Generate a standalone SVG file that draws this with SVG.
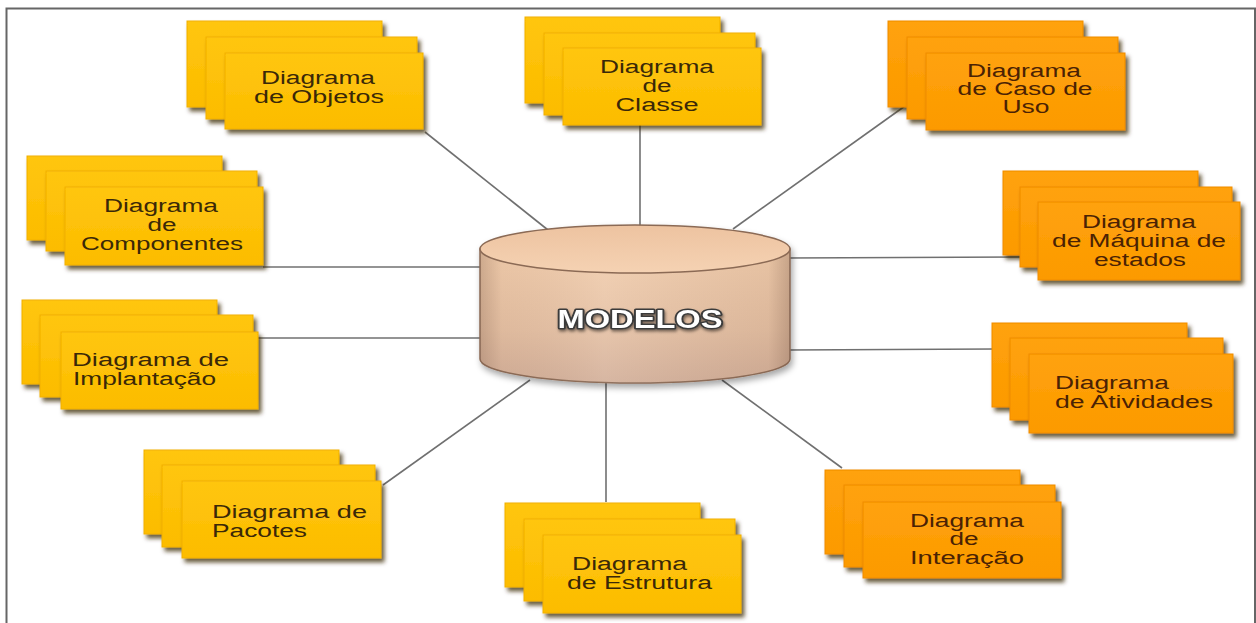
<svg xmlns="http://www.w3.org/2000/svg" width="1256" height="623" viewBox="0 0 1256 623">
<defs>
<filter id="sh" x="-10%" y="-10%" width="125%" height="130%">
<feDropShadow dx="3" dy="4" stdDeviation="2.2" flood-color="#3a2800" flood-opacity="0.75"/>
</filter>
<filter id="csh" x="-10%" y="-10%" width="120%" height="130%">
<feDropShadow dx="2" dy="4" stdDeviation="3" flood-color="#000" flood-opacity="0.35"/>
</filter>
<filter id="tsh" x="-10%" y="-30%" width="120%" height="160%">
<feDropShadow dx="1" dy="2" stdDeviation="1.5" flood-color="#000" flood-opacity="0.5"/>
</filter>
<linearGradient id="gy" x1="0" y1="0" x2="0" y2="1">
<stop offset="0" stop-color="#FFC60E"/>
<stop offset="1" stop-color="#FCBC00"/>
</linearGradient>
<linearGradient id="go" x1="0" y1="0" x2="0" y2="1">
<stop offset="0" stop-color="#FFA20C"/>
<stop offset="1" stop-color="#FC9A00"/>
</linearGradient>
<linearGradient id="body" x1="0" y1="0" x2="0" y2="1">
<stop offset="0" stop-color="#F2CDAC"/>
<stop offset="0.6" stop-color="#E4BFA2"/>
<stop offset="1" stop-color="#D2AE98"/>
</linearGradient>
<linearGradient id="bodyH" x1="0" y1="0" x2="1" y2="0">
<stop offset="0" stop-color="#7a5a48" stop-opacity="0.3"/>
<stop offset="0.07" stop-color="#7a5a48" stop-opacity="0.05"/>
<stop offset="0.4" stop-color="#ffffff" stop-opacity="0.1"/>
<stop offset="0.93" stop-color="#7a5a48" stop-opacity="0.08"/>
<stop offset="1" stop-color="#7a5a48" stop-opacity="0.35"/>
</linearGradient>
<linearGradient id="top" x1="0" y1="0" x2="0" y2="1">
<stop offset="0" stop-color="#EDC3A0"/>
<stop offset="1" stop-color="#F5D2B3"/>
</linearGradient>
<style>
.y{fill:url(#gy);stroke:#F2B000;stroke-width:1;filter:url(#sh)}
.o{fill:url(#go);stroke:#F08C00;stroke-width:1;filter:url(#sh)}
.t{font-family:"Liberation Sans",Arial,sans-serif;font-size:18px;fill:#3a2808}
.o2{fill:#4a2204}
.tc{text-anchor:middle}
.conn line{stroke:#707070;stroke-width:1.6}
</style>
</defs>
<rect x="0" y="0" width="1256" height="623" fill="#ffffff"/>
<rect x="6.5" y="8.5" width="1248.5" height="620" fill="none" stroke="#666666" stroke-width="2"/>

<g id="connectors" class="conn">
<line x1="425" y1="132" x2="548" y2="230"/>
<line x1="640" y1="125" x2="640" y2="228"/>
<line x1="905" y1="106" x2="733" y2="229"/>
<line x1="263" y1="267" x2="482" y2="267"/>
<line x1="788" y1="258" x2="1020" y2="257"/>
<line x1="258" y1="338" x2="482" y2="338"/>
<line x1="788" y1="350" x2="995" y2="349"/>
<line x1="383" y1="485" x2="530" y2="380"/>
<line x1="606" y1="383" x2="606" y2="502"/>
<line x1="722" y1="380" x2="842" y2="468"/>
</g>

<g id="modelos">
<g filter="url(#csh)">
<path d="M480,249 L480,359 A155,24 0 0 0 790,359 L790,249 Z" fill="url(#body)" stroke="#8B6A55" stroke-width="1.5"/>
<path d="M480,249 L480,359 A155,24 0 0 0 790,359 L790,249 Z" fill="url(#bodyH)"/>
<ellipse cx="635" cy="249" rx="155" ry="24" fill="url(#top)" stroke="#8B6A55" stroke-width="1.5"/>
</g>
<text x="640" y="328" text-anchor="middle" font-family="Liberation Sans,Arial,sans-serif" font-weight="bold" font-size="25" textLength="165" lengthAdjust="spacingAndGlyphs" fill="#ffffff" stroke="#3a3a3a" stroke-width="3" paint-order="stroke" stroke-linejoin="round" filter="url(#tsh)">MODELOS</text>
</g>

<g id="objetos">
<rect class="y" x="187" y="21" width="195" height="86"/>
<rect class="y" x="206" y="37" width="211" height="82"/>
<rect class="y" x="225" y="53" width="198" height="76"/>
<text class="t tc" x="318" y="84" textLength="114" lengthAdjust="spacingAndGlyphs">Diagrama</text>
<text class="t tc" x="319" y="103" textLength="130" lengthAdjust="spacingAndGlyphs">de Objetos</text>
</g>

<g id="classe">
<rect class="y" x="525" y="17" width="195" height="86"/>
<rect class="y" x="544" y="33" width="211" height="82"/>
<rect class="y" x="563" y="48" width="198" height="77"/>
<text class="t tc" x="657" y="73" textLength="114" lengthAdjust="spacingAndGlyphs">Diagrama</text>
<text class="t tc" x="657" y="92" textLength="29" lengthAdjust="spacingAndGlyphs">de</text>
<text class="t tc" x="657" y="111" textLength="83" lengthAdjust="spacingAndGlyphs">Classe</text>
</g>

<g id="casodeuso">
<rect class="o" x="888" y="21" width="195" height="86"/>
<rect class="o" x="907" y="37" width="211" height="82"/>
<rect class="o" x="926" y="53" width="199" height="77"/>
<text class="t tc o2" x="1024" y="77" textLength="114" lengthAdjust="spacingAndGlyphs">Diagrama</text>
<text class="t tc o2" x="1025" y="95" textLength="135" lengthAdjust="spacingAndGlyphs">de Caso de</text>
<text class="t tc o2" x="1026" y="113" textLength="47" lengthAdjust="spacingAndGlyphs">Uso</text>
</g>

<g id="componentes">
<rect class="y" x="27" y="156" width="195" height="84"/>
<rect class="y" x="46" y="171" width="211" height="80"/>
<rect class="y" x="65" y="187" width="198" height="78"/>
<text class="t tc" x="161" y="212" textLength="114" lengthAdjust="spacingAndGlyphs">Diagrama</text>
<text class="t tc" x="162" y="231" textLength="29" lengthAdjust="spacingAndGlyphs">de</text>
<text class="t tc" x="162" y="250" textLength="162" lengthAdjust="spacingAndGlyphs">Componentes</text>
</g>

<g id="maquina">
<rect class="o" x="1003" y="171" width="195" height="84"/>
<rect class="o" x="1020" y="187" width="212" height="80"/>
<rect class="o" x="1038" y="202" width="202" height="78"/>
<text class="t tc o2" x="1139" y="228" textLength="114" lengthAdjust="spacingAndGlyphs">Diagrama</text>
<text class="t tc o2" x="1139" y="247" textLength="174" lengthAdjust="spacingAndGlyphs">de Máquina de</text>
<text class="t tc o2" x="1140" y="266" textLength="92" lengthAdjust="spacingAndGlyphs">estados</text>
</g>

<g id="implantacao">
<rect class="y" x="22" y="300" width="195" height="84"/>
<rect class="y" x="40" y="315" width="213" height="82"/>
<rect class="y" x="61" y="332" width="197" height="77"/>
<text class="t" x="72" y="366" textLength="157" lengthAdjust="spacingAndGlyphs">Diagrama de</text>
<text class="t" x="73" y="385" textLength="143" lengthAdjust="spacingAndGlyphs">Implantação</text>
</g>

<g id="atividades">
<rect class="o" x="992" y="323" width="195" height="84"/>
<rect class="o" x="1010" y="338" width="213" height="82"/>
<rect class="o" x="1029" y="354" width="204" height="79"/>
<text class="t o2" x="1055" y="389" textLength="114" lengthAdjust="spacingAndGlyphs">Diagrama</text>
<text class="t o2" x="1055" y="408" textLength="158" lengthAdjust="spacingAndGlyphs">de Atividades</text>
</g>

<g id="pacotes">
<rect class="y" x="144" y="450" width="195" height="84"/>
<rect class="y" x="162" y="465" width="213" height="82"/>
<rect class="y" x="182" y="481" width="199" height="77"/>
<text class="t" x="212" y="518" textLength="155" lengthAdjust="spacingAndGlyphs">Diagrama de</text>
<text class="t" x="212" y="537" textLength="95" lengthAdjust="spacingAndGlyphs">Pacotes</text>
</g>

<g id="estrutura">
<rect class="y" x="505" y="503" width="195" height="84"/>
<rect class="y" x="524" y="519" width="211" height="82"/>
<rect class="y" x="543" y="535" width="198" height="78"/>
<text class="t" x="572" y="570" textLength="115" lengthAdjust="spacingAndGlyphs">Diagrama</text>
<text class="t" x="567" y="589" textLength="145" lengthAdjust="spacingAndGlyphs">de Estrutura</text>
</g>

<g id="interacao">
<rect class="o" x="825" y="470" width="195" height="84"/>
<rect class="o" x="844" y="485" width="211" height="82"/>
<rect class="o" x="863" y="502" width="198" height="76"/>
<text class="t tc o2" x="967" y="527" textLength="114" lengthAdjust="spacingAndGlyphs">Diagrama</text>
<text class="t tc o2" x="964" y="545" textLength="29" lengthAdjust="spacingAndGlyphs">de</text>
<text class="t tc o2" x="967" y="564" textLength="114" lengthAdjust="spacingAndGlyphs">Interação</text>
</g>
</svg>
